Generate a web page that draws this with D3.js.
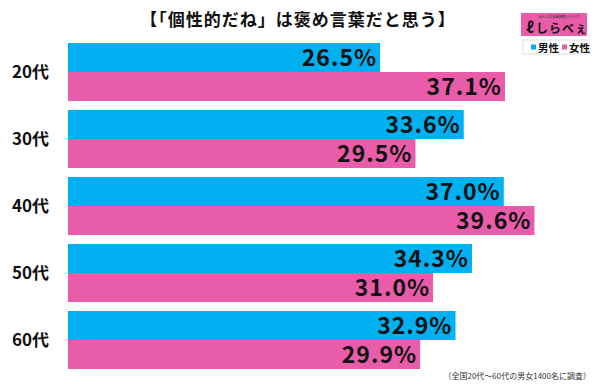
<!DOCTYPE html>
<html>
<head>
<meta charset="utf-8">
<script src="https://cdn.jsdelivr.net/npm/d3@7"></script>
<style>
  body { margin: 0; background: #fff; }
  svg { display: block; font-family: "Noto Sans CJK JP", "Noto Sans", sans-serif; }
</style>
</head>
<body>
<div id="chart"></div>
<script>
var ages = ["20代", "30代", "40代", "50代", "60代"];
var series = ["男性", "女性"];
var male = [26.5, 33.6, 37.0, 34.3, 32.9];
var female = [37.1, 29.5, 39.6, 31.0, 29.9];
var colors = ["#00b0f0", "#e95caa"];

var width = 600, height = 384;

var svg = d3.select("#chart").append("svg")
  .attr("width", width)
  .attr("height", height);

// scales
var x = d3.scaleLinear().domain([0, 45]).range([68, 598]);
var y = d3.scaleBand().domain(ages).range([38.5, 373.5])
  .paddingInner(0.134).paddingOuter(0.067);
var ySub = d3.scaleBand().domain(series).range([0, y.bandwidth()]);

var rows = ages.map(function (a, i) {
  return { age: a, vals: [male[i], female[i]] };
});

var g = svg.selectAll("g.row")
  .data(rows)
  .enter().append("g")
  .attr("class", "row")
  .attr("transform", function (d) { return "translate(0," + y(d.age) + ")"; });

// bars
g.selectAll("rect")
  .data(function (d) { return d.vals.map(function (v, j) { return { s: series[j], v: v, j: j }; }); })
  .enter().append("rect")
  .attr("x", x(0))
  .attr("y", function (d) { return ySub(d.s); })
  .attr("width", function (d) { return x(d.v) - x(0); })
  .attr("height", ySub.bandwidth())
  .attr("fill", function (d) { return colors[d.j]; });

// value labels
g.selectAll("text.val")
  .data(function (d) { return d.vals.map(function (v, j) { return { s: series[j], v: v }; }); })
  .enter().append("text")
  .attr("class", "val")
  .attr("x", function (d) { return x(d.v) - 3; })
  .attr("y", function (d) { return ySub(d.s) + ySub.bandwidth() / 2 + 8; })
  .attr("text-anchor", "end")
  .attr("font-size", 23)
  .attr("font-weight", "bold")
  .attr("letter-spacing", 1)
  .attr("fill", "#111")
  .text(function (d) { return d.v.toFixed(1) + "%"; });

// category labels
g.append("text")
  .attr("x", 12)
  .attr("y", y.bandwidth() / 2 + 6)
  .attr("font-size", 17)
  .attr("font-weight", "bold")
  .attr("fill", "#111")
  .text(function (d) { return d.age; });

// title
svg.append("text")
  .attr("x", 298)
  .attr("y", 26)
  .attr("text-anchor", "middle")
  .attr("font-size", 17)
  .attr("font-weight", "bold")
  .attr("letter-spacing", 1)
  .attr("fill", "#111")
  .text("【「個性的だね」は褒め言葉だと思う】");

// logo
var logo = svg.append("g").attr("transform", "translate(521,13)");
logo.append("rect").attr("width", 66).attr("height", 23).attr("fill", "#e95caa");
logo.append("text").attr("x", 38).attr("y", 4.5).attr("font-size", 3.5)
  .attr("text-anchor", "middle").attr("fill", "#333").text("みんなの意識調査メディア");
logo.append("text").attr("x", 5).attr("y", 20).attr("font-size", 15)
  .attr("font-weight", "bold").attr("fill", "#111").text("ℓ");
logo.append("text").attr("x", 15).attr("y", 20).attr("font-size", 12)
  .attr("font-weight", "bold").attr("fill", "#111").attr("letter-spacing", 1).text("しらべぇ");

// legend
var leg = svg.append("g").attr("transform", "translate(523,40)");
leg.append("rect").attr("width", 66).attr("height", 14)
  .attr("fill", "#fff").attr("stroke", "#ddd").attr("stroke-width", 1);
series.forEach(function (s, i) {
  var lx = 8 + i * 31;
  leg.append("rect").attr("x", lx).attr("y", 4.5).attr("width", 5).attr("height", 5)
    .attr("fill", colors[i]);
  leg.append("text").attr("x", lx + 7).attr("y", 11.5).attr("font-size", 10.5)
    .attr("font-weight", "bold").attr("fill", "#111").text(s);
});

// footnote
svg.append("text")
  .attr("x", 591)
  .attr("y", 379)
  .attr("text-anchor", "end")
  .attr("font-size", 8)
  .attr("fill", "#333")
  .text("（全国20代～60代の男女1400名に調査）");
</script>
</body>
</html>
